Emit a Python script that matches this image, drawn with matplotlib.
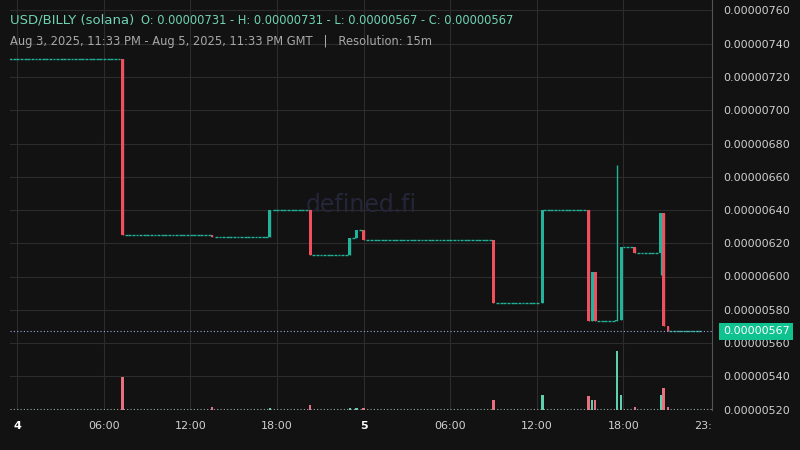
import matplotlib
matplotlib.use("Agg")
import matplotlib.pyplot as plt
import numpy as np

# hours since Aug 4 00:00 GMT; prices in units of 1e-8
start_hour = -27/60
end_hour = 47.55
open_price = 731
# events: (hour, open, high, low, close, volume)
ev_hours = [7.3, 13.5, 17.5, 20.3, 23.05, 23.5, 24.0, 33.0, 36.4, 39.6, 39.85, 40.05, 41.55, 41.85, 42.8, 44.6, 44.8, 45.1]
ev_open  = [731, 625, 624, 640, 613, 623, 628, 622, 584, 640, 573, 603, 573, 574, 618, 614, 638, 570]
ev_high  = [731, 625, 640, 640, 623, 628, 628, 622, 640, 640, 603, 603, 667, 618, 618, 638, 638, 570]
ev_low   = [625, 624, 624, 613, 613, 623, 622, 584, 584, 573, 573, 573, 573, 574, 614, 601, 570, 567]
ev_close = [625, 624, 640, 613, 623, 628, 622, 584, 640, 573, 603, 573, 574, 618, 614, 638, 570, 567]
ev_vol   = [32, 3, 2, 5, 2, 2, 2, 10, 15, 14, 10, 10, 58, 15, 3, 15, 21, 3]
last_price = 567

UP, DN = "#22b39a", "#f0505e"
VUP, VDN = "#5fcfae", "#e8707e"
BG = "#121212"

fig = plt.figure(figsize=(8, 4.5), dpi=100, facecolor=BG)
ax = fig.add_axes([10/800, 40/450, 702/800, 410/450])
ax.set_facecolor(BG)
ymin = 640 - 200/1.6625
ymax = 640 + 210/1.6625
ax.set_ylim(ymin, ymax)
ax.set_xlim(-0.5, 48.15)

# flat doji candles between events
bw = 0.2
cur = open_price
step = 0.25
times = np.arange(start_hour, end_hour, step)
ei = 0
for tt in times:
    if ei < len(ev_hours) and tt >= ev_hours[ei] - step/2:
        cur = ev_close[ei]
        ei += 1
        continue
    ax.hlines(cur, tt - bw/2, tt + bw/2, color=UP, lw=1)

for h, o, hi, lo, c in zip(ev_hours, ev_open, ev_high, ev_low, ev_close):
    col = UP if c >= o else DN
    ax.vlines(h, lo, hi, color=col, lw=1)
    ax.bar(h, max(abs(c - o), 0.8), bottom=min(o, c), width=bw, color=col, linewidth=0)

# volume
vax = ax.twinx()
vax.set_ylim(0, 400)
vax.axis("off")
for h, o, c, v in zip(ev_hours, ev_open, ev_close, ev_vol):
    vax.bar(h, v, width=0.17, color=VUP if c >= o else VDN, linewidth=0)
vax.axhline(0.5, color="#9aa", lw=0.8, ls=(0, (1, 2)))

# grid
for yv in range(520, 780, 20):
    ax.axhline(yv, color="#2c2c2c", lw=0.8, zorder=0)
xt = [0, 6, 12, 18, 24, 30, 36, 42, 47.5]
xl = ["4", "06:00", "12:00", "18:00", "5", "06:00", "12:00", "18:00", "23:"]
for xv in xt[:-1]:
    ax.axvline(xv, color="#2c2c2c", lw=0.8, zorder=0)
ax.axhline(last_price, color="#9ad", lw=0.8, ls=(0, (1, 2)))

ax.set_xticks(xt)
ax.set_xticklabels(xl)
for lab in ax.get_xticklabels():
    lab.set_color("#cfcfcf"); lab.set_fontsize(8)
    if lab.get_text() in ("4", "5"):
        lab.set_fontweight("bold"); lab.set_color("white")
ax.tick_params(axis="x", length=0, pad=8)
ax.yaxis.tick_right()
ax.set_yticks(range(520, 780, 20))
ax.set_yticklabels([f"{v*1e-8:.8f}" for v in range(520, 780, 20)], fontsize=8, color="#cfcfcf")
ax.tick_params(axis="y", length=0, pad=8)
for s in ["top", "left", "bottom"]:
    ax.spines[s].set_visible(False)
ax.spines["right"].set_color("#555555")

ax.text(48.9, last_price, f"{last_price*1e-8:.8f}", fontsize=8, color="white", va="center",
        ha="left", bbox=dict(boxstyle="square,pad=0.3", fc="#0fc290", ec="none"), clip_on=False)

ax.text(0.5, 0.5, "defined.fi", transform=ax.transAxes, fontsize=17, color="#25253a",
        ha="center", va="center", zorder=0)

fig.text(10/800, 1 - 20/450, "USD/BILLY (solana)", fontsize=9.5, color="#6fd3b3", va="center")
fig.text(141/800, 1 - 20/450, "O: 0.00000731 - H: 0.00000731 - L: 0.00000567 - C: 0.00000567",
         fontsize=8.3, color="#6fd3b3", va="center")
fig.text(10/800, 1 - 41/450, "Aug 3, 2025, 11:33 PM - Aug 5, 2025, 11:33 PM GMT   |   Resolution: 15m",
         fontsize=8.3, color="#a8a8a8", va="center")

fig.savefig("out.png", dpi=100, facecolor=BG)
